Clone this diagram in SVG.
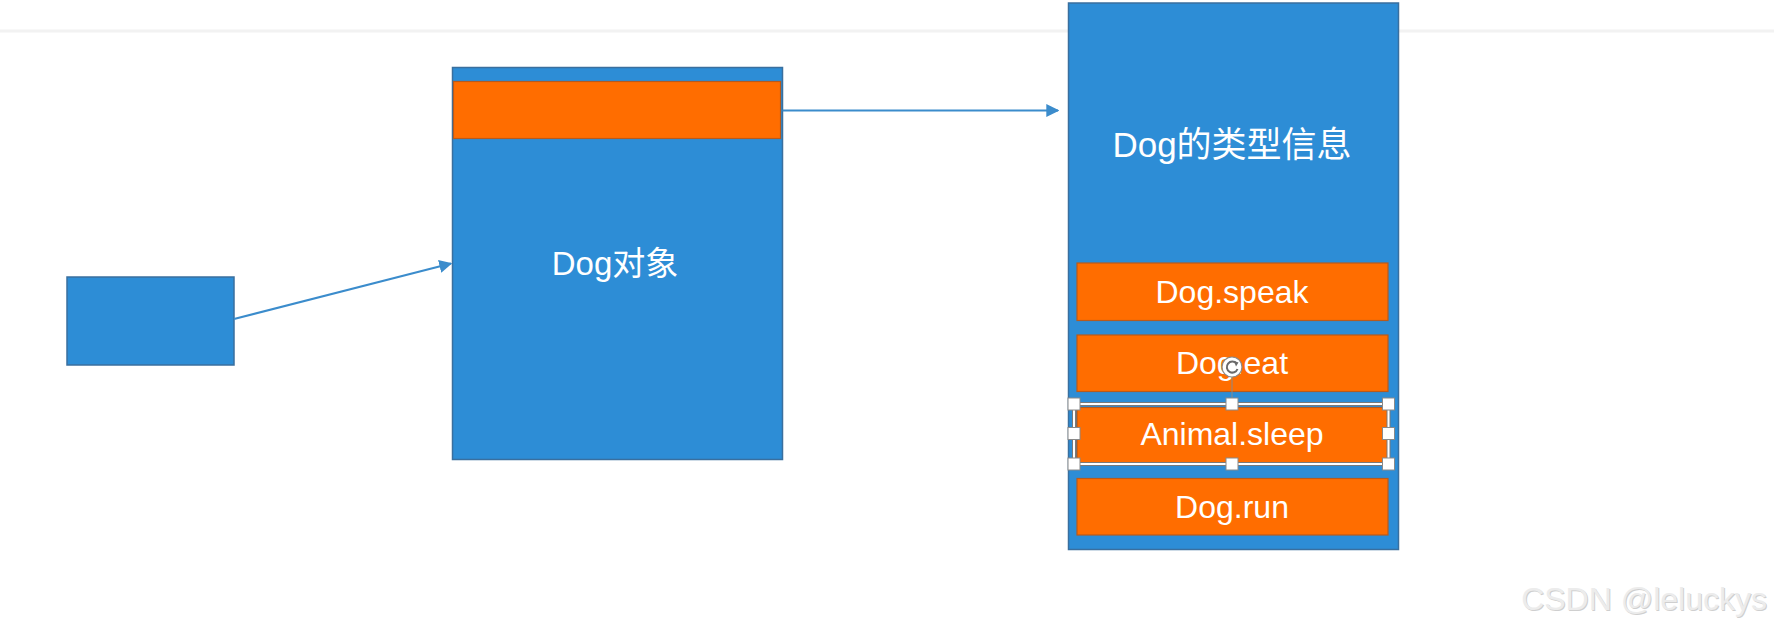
<svg xmlns="http://www.w3.org/2000/svg" width="1774" height="630" viewBox="0 0 1774 630">
<style>
.blue{fill:#2d8dd6;stroke:#3a6f9e;stroke-width:1.5}
.orange{fill:#ff6d00;stroke:#b85a1c;stroke-width:1.2}
.lbl{font-family:"Liberation Sans","Noto Sans CJK SC",sans-serif;fill:#ffffff;text-anchor:middle}
.conn{stroke:#3b8ccc;stroke-width:2;fill:none}
.handle{fill:#ffffff;stroke:#8a8a8a;stroke-width:1}
</style>
<defs>
<marker id="arr" viewBox="0 0 10 10" refX="9" refY="5" markerWidth="6.5" markerHeight="6.5" orient="auto" markerUnits="strokeWidth">
<path d="M0,0 L10,5 L0,10 z" fill="#3b8ccc"/>
</marker>
</defs>
<rect x="0" y="0" width="1774" height="630" fill="#ffffff"/>
<rect x="0" y="29.5" width="1774" height="3" fill="#f2f2f2"/>

<g id="pointer">
<rect class="blue" x="67" y="277" width="167" height="88"/>
</g>

<g id="dog-object">
<rect class="blue" x="452.5" y="67.5" width="330" height="392"/>
<rect class="orange" x="453.5" y="81.5" width="327" height="57"/>
<text class="lbl" x="615" y="275" font-size="33">Dog对象</text>
</g>

<g id="dog-type-info">
<rect class="blue" x="1068.5" y="3" width="330" height="546.5"/>
<text class="lbl" x="1232" y="157" font-size="35">Dog的类型信息</text>
</g>

<g id="m-speak">
<rect class="orange" x="1077" y="263" width="311" height="57.5"/>
<text class="lbl" x="1232" y="303" font-size="32">Dog.speak</text>
</g>
<g id="m-eat">
<rect class="orange" x="1077" y="335" width="311" height="56.5"/>
<text class="lbl" x="1232" y="374" font-size="32">Dog.eat</text>
</g>
<g id="m-sleep">
<rect class="orange" x="1077" y="407.5" width="311" height="56"/>
<text class="lbl" x="1232" y="445" font-size="32">Animal.sleep</text>
</g>
<g id="m-run">
<rect class="orange" x="1077" y="478.5" width="311" height="56.5"/>
<text class="lbl" x="1232" y="518" font-size="32">Dog.run</text>
</g>

<g id="selection">
<rect x="1074" y="404" width="314.5" height="60" fill="none" stroke="#7a7a7a" stroke-width="4"/>
<rect x="1074" y="404" width="314.5" height="60" fill="none" stroke="#ffffff" stroke-width="2"/>
<line x1="1232" y1="398" x2="1232" y2="377" stroke="#8a8a8a" stroke-width="1"/>
<circle cx="1232" cy="367" r="10" fill="#ffffff" stroke="#8a8a8a" stroke-width="1.2"/>
<path d="M1236.5,363.5 A5.5,5.5 0 1 0 1237.5,369" fill="none" stroke="#6a6a6a" stroke-width="2"/>
<path d="M1234,361 L1238.5,362.5 L1236,366.5 z" fill="#6a6a6a"/>
<rect class="handle" x="1068" y="398" width="12" height="12"/>
<rect class="handle" x="1226" y="398" width="12" height="12"/>
<rect class="handle" x="1382.5" y="398" width="12" height="12"/>
<rect class="handle" x="1068" y="427.5" width="12" height="12"/>
<rect class="handle" x="1382.5" y="427.5" width="12" height="12"/>
<rect class="handle" x="1068" y="458" width="12" height="12"/>
<rect class="handle" x="1226" y="458" width="12" height="12"/>
<rect class="handle" x="1382.5" y="458" width="12" height="12"/>
</g>

<g id="connectors">
<line class="conn" x1="234" y1="319" x2="451" y2="263.5" marker-end="url(#arr)"/>
<line class="conn" x1="782.5" y1="110.5" x2="1058" y2="110.5" marker-end="url(#arr)"/>
</g>

<text x="1768" y="611" font-family="Liberation Sans, sans-serif" font-size="32" text-anchor="end" fill="#cfcfcf">CSDN @leluckys</text>
<text x="1767" y="610" font-family="Liberation Sans, sans-serif" font-size="32" text-anchor="end" fill="#ececec">CSDN @leluckys</text>
</svg>
